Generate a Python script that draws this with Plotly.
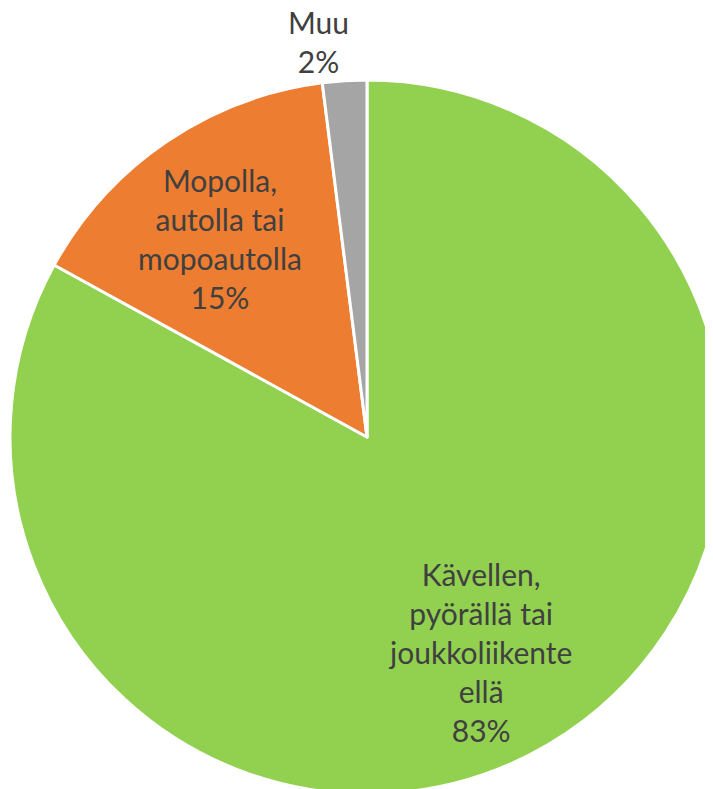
import plotly.graph_objects as go

# ----------- dane ----------------
labels = ['Kävellen,<br>pyörällä tai<br>joukkoliikente<br>ellä', 'Mopolla,<br>autolla tai<br>mopoautolla', 'Muu']
values = [83, 15, 2]
colors = ['#92D050', '#ED7D31', '#A5A5A5']

# wymiary i marginesy (strona ma 8px marginesu body)
W, H = 716, 789
L, R, T, B = 2, 0, 72, 3
OFF = 8
# srodki etykiet w pikselach ekranu
label_pos = [(480, 652), (220, 238), (318, 42)]

fig = go.Figure()
fig.add_trace(go.Pie(labels=labels, values=values, sort=False, direction='clockwise', rotation=0,
                     marker=dict(colors=colors, line=dict(color='white', width=3)),
                     textinfo='none', hoverinfo='label+percent', showlegend=False))

for lab, val, (px, py) in zip(labels, values, label_pos):
    fx, fy = px - OFF, py - OFF
    fig.add_annotation(x=(fx - L) / (W - L - R), y=1 - (fy - T) / (H - T - B),
                       xref='paper', yref='paper', xanchor='center', yanchor='middle',
                       text=f'{lab}<br>{val}%', showarrow=False, borderpad=0,
                       font=dict(family='Lato', size=30, color='#404040'))

fig.update_layout(width=W, height=H, margin=dict(l=L, r=R, t=T, b=B),
                  paper_bgcolor='white', plot_bgcolor='white')
fig.write_html("out.html")
